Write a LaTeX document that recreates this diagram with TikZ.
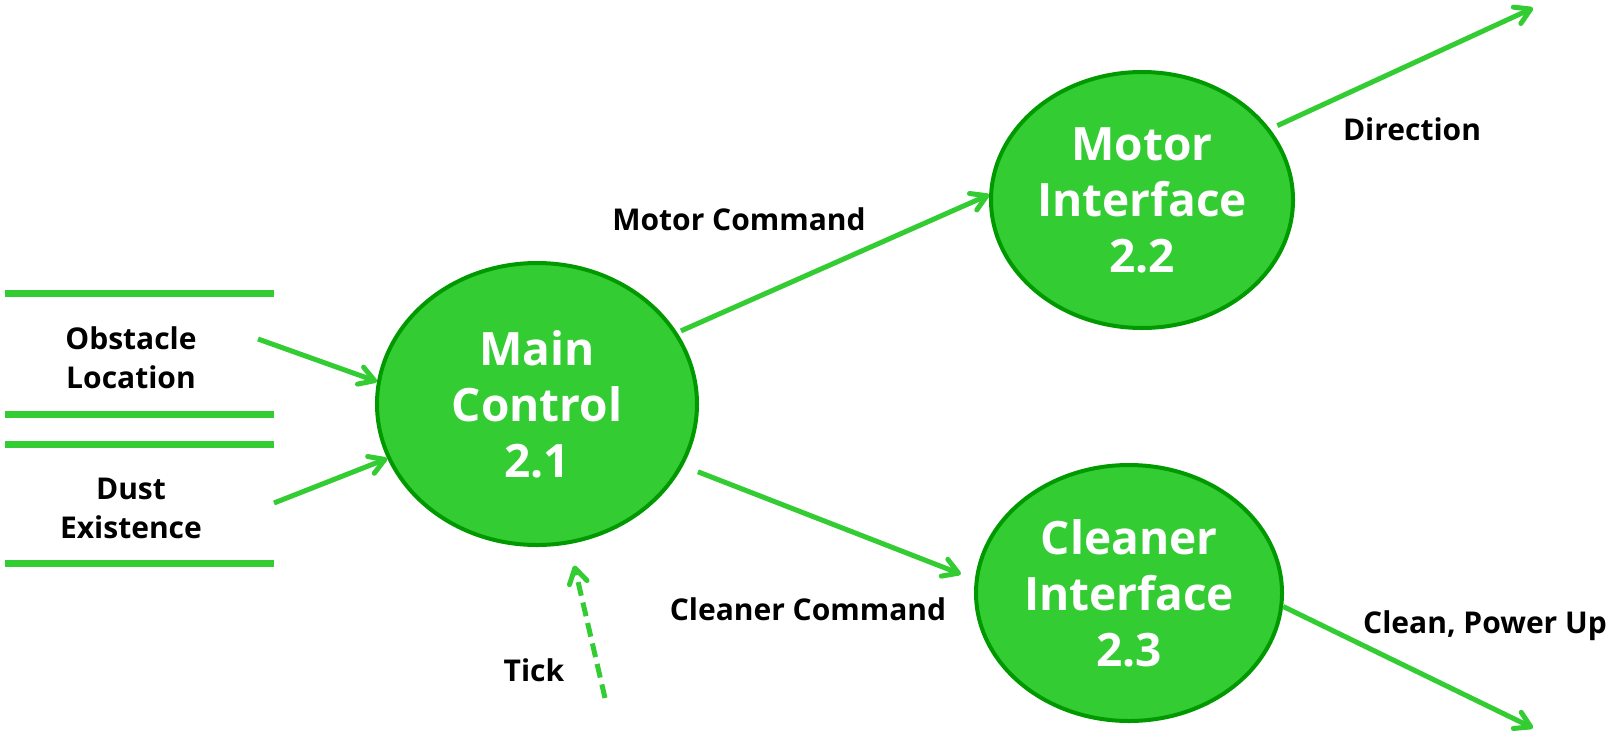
\documentclass[tikz,border=0pt]{standalone}
\usepackage{fontspec}
\setmainfont{Open Sans}
\usetikzlibrary{arrows.meta,shapes.geometric}
\definecolor{dfdgreen}{RGB}{51,204,51}
\definecolor{dfdborder}{RGB}{0,153,0}

\begin{document}
\begin{tikzpicture}[x=1pt,y=-1pt]
\tikzstyle{every node}=[font=\bfseries\fontsize{30}{39}\selectfont, align=center, inner sep=0pt]
\tikzstyle{proc}=[ellipse, draw=dfdborder, line width=4pt, fill=dfdgreen, text=white, font=\bfseries\fontsize{46}{56}\selectfont]
\tikzstyle{flow}=[dfdgreen, line width=5pt, -{Straight Barb[length=15pt,width=18pt,round]}]
\tikzstyle{store}=[dfdgreen, line width=7pt]
\useasboundingbox (0,0) rectangle (1614,737);
% data stores
\draw[store] (5,293) -- (274,293);
\draw[store] (5,414) -- (274,414);
\draw[store] (5,444) -- (274,444);
\draw[store] (5,563) -- (274,563);
\draw (131,358) node (d1) {Obstacle\\Location};
\draw (131,508) node (d2) {Dust\\Existence};
% processes
\draw (537,404) node (p1) [proc, minimum width=320pt, minimum height=282pt] {Main\\Control\\2.1};
\draw (1142,200) node (p2) [proc, minimum width=302pt, minimum height=256pt] {Motor\\Interface\\2.2};
\draw (1129,593) node (p3) [proc, minimum width=306pt, minimum height=256pt] {Cleaner\\Interface\\2.3};
% free ends
\coordinate (obs) at (258,339);
\coordinate (dust) at (274,503);
\coordinate (tick) at (605,698);
\coordinate (dir) at (1533,8);
\coordinate (pwr) at (1533,728);
% flows
\draw[flow] (obs) -- (p1.172.5);
\draw[flow] (dust) -- (p1.200.4);
\draw[flow, dash pattern=on 14pt off 7pt, shorten >=22pt] (tick) -- (p1.-77.4);
\draw[flow, shorten <=4pt] (p1.27.5) -- (p2.178.9);
\draw[flow, shorten <=16pt, shorten >=15pt] (p1.-23.6) -- (p3.175);
\draw[flow, shorten <=8pt] (p2.29.2) -- (dir);
\draw[flow] (p3.-5.2) -- (pwr);
% labels
\draw (739,219) node (l1) {Motor Command};
\draw (808,609) node (l2) {Cleaner Command};
\draw (534,670) node (l3) {Tick};
\draw (1412,129) node (l4) {Direction};
\draw (1485,626) node (l5) {Clean, Power Up};
\end{tikzpicture}
\end{document}
